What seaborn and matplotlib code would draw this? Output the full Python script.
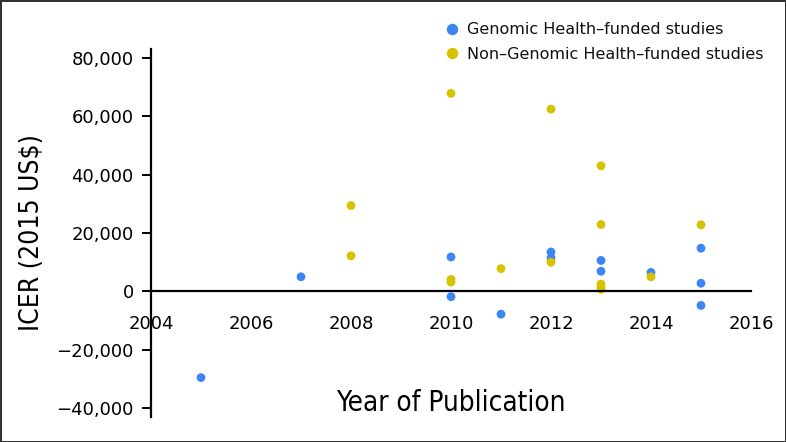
import matplotlib
matplotlib.use("Agg")
import matplotlib.pyplot as plt
import seaborn as sns
import pandas as pd

# Data
gh_years = [2005, 2007, 2010, 2010, 2011, 2012, 2012, 2013, 2013, 2014, 2015, 2015, 2015]
gh_icer = [-29500, 5000, 11800, -1800, -7800, 13500, 11500, 10600, 6900, 6500, 14800, 2800, -4800]

ngh_years = [2008, 2008, 2010, 2010, 2010, 2011, 2012, 2012, 2013, 2013, 2013, 2013, 2013, 2014, 2015]
ngh_icer = [29400, 12200, 67800, 4100, 3200, 7800, 62400, 10000, 43000, 22900, 2500, 1500, 700, 5000, 22800]

series_names = ["Genomic Health\u2013funded studies", "Non\u2013Genomic Health\u2013funded studies"]
series_colors = ["#3b86f2", "#d6c300"]

x_ticks = [2004, 2006, 2008, 2010, 2012, 2014, 2016]
y_ticks = [-40000, -20000, 0, 20000, 40000, 60000, 80000]

df = pd.DataFrame({
    "year": gh_years + ngh_years,
    "icer": gh_icer + ngh_icer,
    "group": [series_names[0]] * len(gh_years) + [series_names[1]] * len(ngh_years),
})

sns.set_style("white")
plt.rcParams["font.family"] = ["DejaVu Sans"]
plt.rcParams["text.color"] = "black"
plt.rcParams["xtick.color"] = "black"
plt.rcParams["ytick.color"] = "black"
plt.rcParams["axes.labelcolor"] = "black"

fig = plt.figure(figsize=(7.86, 4.42), dpi=100)
fig.patch.set_edgecolor("#333333")
fig.patch.set_linewidth(2)
ax = fig.add_axes([151 / 786, 1 - 417 / 442, 600 / 786, 368 / 442])

sns.scatterplot(data=df, x="year", y="icer", hue="group", hue_order=series_names,
                palette=series_colors, s=40, edgecolor="none", linewidth=0, ax=ax)

ax.set_xlim(2004, 2016)
ax.set_ylim(-43000, 83000)
ax.set_xticks(x_ticks)
ax.set_yticks(y_ticks)
ax.set_yticklabels([f"{v:,}".replace("-", "\u2212") for v in y_ticks])

for side in ["top", "right"]:
    ax.spines[side].set_visible(False)
ax.spines["bottom"].set_position(("data", 0))
for side in ["bottom", "left"]:
    ax.spines[side].set_linewidth(1.6)
    ax.spines[side].set_color("black")

ax.tick_params(axis="x", length=0, pad=17, labelsize=13)
ax.tick_params(axis="y", length=6.5, width=1.4, direction="out", left=True, labelsize=13, pad=6)

narrow = ["Liberation Sans Narrow", "DejaVu Sans"]
ax.set_ylabel("ICER (2015 US$)", fontsize=19, family=narrow, fontstretch="condensed", labelpad=8)
ax.set_xlabel("Year of Publication", fontsize=20, family=narrow, fontstretch="condensed")
ax.xaxis.set_label_coords(0.5, 0.0)
ax.xaxis.label.set_verticalalignment("bottom")

leg = ax.legend(loc="upper left", bbox_to_anchor=(441 / 786, 1 - 19 / 442),
                bbox_transform=fig.transFigure, frameon=False, fontsize=11.5,
                handlelength=1.0, handletextpad=0.4, labelspacing=0.6, markerscale=1.3,
                borderaxespad=0, borderpad=0.2)
for t in leg.get_texts():
    t.set_color("#111111")

fig.savefig("out.png", dpi=100)
